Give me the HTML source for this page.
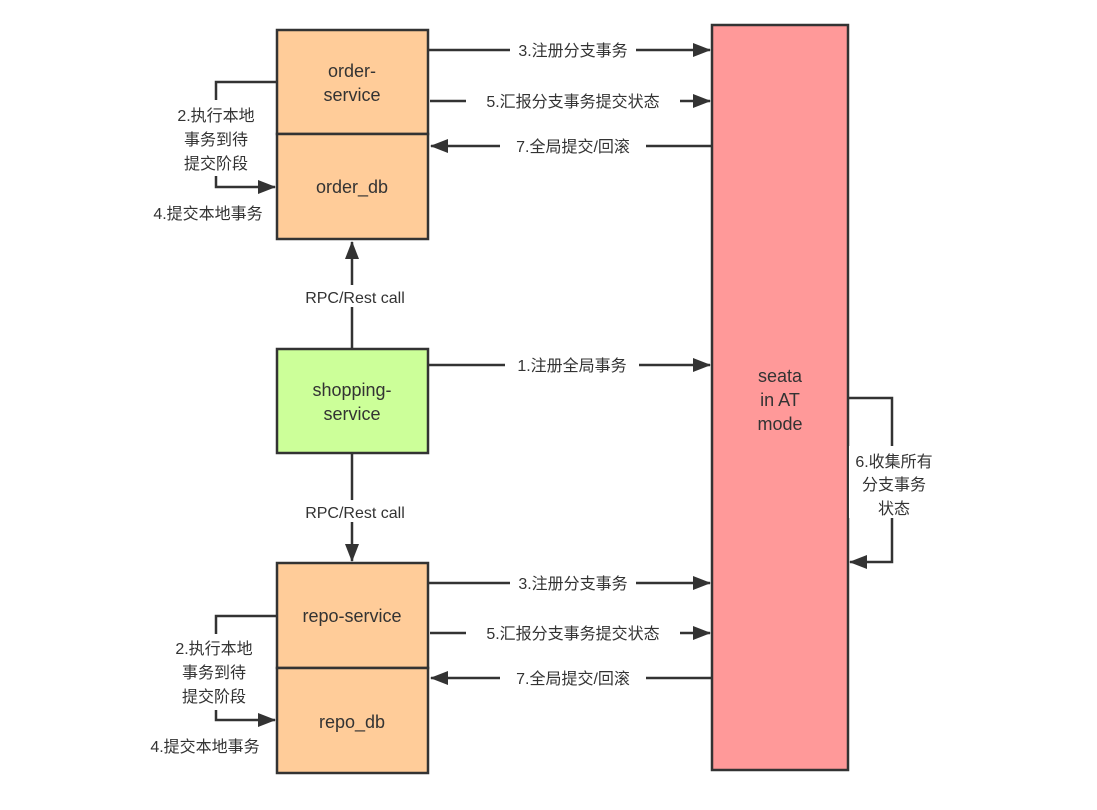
<!DOCTYPE html>
<html><head><meta charset="utf-8"><style>
html,body{margin:0;padding:0;background:#fff;width:1097px;height:810px;overflow:hidden}
text{font-family:"Liberation Sans","Noto Sans CJK SC",sans-serif;fill:#333}
</style></head><body>
<svg width="1097" height="810" viewBox="0 0 1097 810" xmlns="http://www.w3.org/2000/svg">
<defs>
<marker id="a" markerWidth="10" markerHeight="10" refX="9" refY="5" orient="auto" markerUnits="userSpaceOnUse" viewBox="0 0 10 10">
<path d="M0,0 L10,5 L0,10 z" fill="#333"/></marker>
<marker id="b" markerWidth="18" markerHeight="14" refX="17" refY="7" orient="auto" markerUnits="userSpaceOnUse" viewBox="0 0 18 14">
<path d="M0,0 L18,7 L0,14 z" fill="#333"/></marker>
</defs>
<g stroke="#333" stroke-width="2.5">
<rect x="277" y="30" width="151" height="104" fill="#FFCC99"/>
<rect x="277" y="134" width="151" height="105" fill="#FFCC99"/>
<rect x="277" y="349" width="151" height="104" fill="#CCFF99"/>
<rect x="277" y="563" width="151" height="105" fill="#FFCC99"/>
<rect x="277" y="668" width="151" height="105" fill="#FFCC99"/>
<rect x="712" y="25" width="136" height="745" fill="#FF9999"/>
</g>
<g stroke="#333" stroke-width="2.5" fill="none">
<path d="M428,50 H710" marker-end="url(#b)"/>
<path d="M430,101 H710" marker-end="url(#b)"/>
<path d="M712,146 H431" marker-end="url(#b)"/>
<path d="M428,365 H710" marker-end="url(#b)"/>
<path d="M428,583 H710" marker-end="url(#b)"/>
<path d="M430,633 H710" marker-end="url(#b)"/>
<path d="M712,678 H431" marker-end="url(#b)"/>
<path d="M277,82 H216 V187 H275" marker-end="url(#b)"/>
<path d="M277,616 H216 V720 H275" marker-end="url(#b)"/>
<path d="M352,349 V242" marker-end="url(#b)"/>
<path d="M352,453 V561" marker-end="url(#b)"/>
<path d="M848,398 H892 V562 H850" marker-end="url(#b)"/>
</g>
<g font-size="16" text-anchor="middle">
<rect x="510" y="40" width="126" height="20" fill="#fff"/><text x="573" y="56">3.注册分支事务</text>
<rect x="466" y="91" width="214" height="20" fill="#fff"/><text x="573" y="107">5.汇报分支事务提交状态</text>
<rect x="500" y="136" width="146" height="20" fill="#fff"/><text x="573" y="152">7.全局提交/回滚</text>
<rect x="505" y="355" width="134" height="20" fill="#fff"/><text x="572" y="371">1.注册全局事务</text>
<rect x="510" y="573" width="126" height="20" fill="#fff"/><text x="573" y="589">3.注册分支事务</text>
<rect x="466" y="623" width="214" height="20" fill="#fff"/><text x="573" y="639">5.汇报分支事务提交状态</text>
<rect x="500" y="668" width="146" height="20" fill="#fff"/><text x="573" y="684">7.全局提交/回滚</text>
<rect x="172" y="100" width="90" height="76" fill="#fff"/>
<text x="216" y="121">2.执行本地</text><text x="216" y="145">事务到待</text><text x="216" y="169">提交阶段</text>
<text x="208" y="219">4.提交本地事务</text>
<rect x="172" y="634" width="90" height="76" fill="#fff"/>
<text x="214" y="654">2.执行本地</text><text x="214" y="678">事务到待</text><text x="214" y="702">提交阶段</text>
<text x="205" y="752">4.提交本地事务</text>
<rect x="290" y="285" width="130" height="22" fill="#fff"/><text x="355" y="303">RPC/Rest call</text>
<rect x="290" y="500" width="130" height="22" fill="#fff"/><text x="355" y="518">RPC/Rest call</text>
<rect x="849" y="446" width="90" height="72" fill="#fff"/>
<text x="894" y="467">6.收集所有</text><text x="894" y="490">分支事务</text><text x="894" y="514">状态</text>
</g>
<g font-size="18" text-anchor="middle">
<text x="352" y="77">order-</text><text x="352" y="101">service</text>
<text x="352" y="193">order_db</text>
<text x="352" y="396">shopping-</text><text x="352" y="420">service</text>
<text x="352" y="622">repo-service</text>
<text x="352" y="728">repo_db</text>
<text x="780" y="382">seata</text><text x="780" y="406">in AT</text><text x="780" y="430">mode</text>
</g>
</svg>
</body></html>
